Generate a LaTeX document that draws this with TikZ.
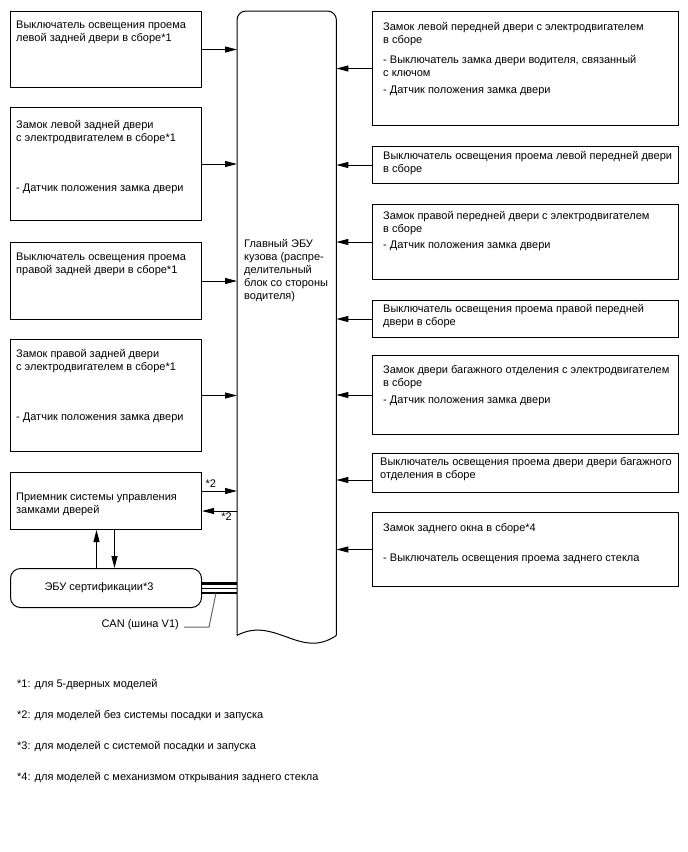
\documentclass[tikz,border=0pt]{standalone}
\usepackage{fontspec}
\setmainfont{Liberation Sans}
\usetikzlibrary{arrows.meta,positioning}
\tikzset{
  txt/.style={inner sep=0pt,font=\fontsize{11}{13}\selectfont},
  unit/.style={draw,line width=1pt,minimum width=191pt,anchor=north west,inner sep=0pt},
  runit/.style={unit,minimum width=306pt},
  cert/.style={unit,rounded corners=10pt,font=\fontsize{11}{13}\selectfont},
  lbl/.style={txt,anchor=north west,align=left,xshift=6pt},
  rlbl/.style={lbl,xshift=5pt},
  flow/.style={-{Triangle[length=12pt,width=6pt]},line width=1pt},
  leader/.style={draw=black!60,line width=1pt},
  note/.style={anchor=west,inner sep=0pt,font=\fontsize{11}{13}\selectfont},
}
\begin{document}
\begin{tikzpicture}[x=1pt,y=-1pt,node distance=19pt]
\useasboundingbox (0,0) rectangle (688,852);
% left column
\node[unit,minimum height=76pt,label={[lbl,yshift=-9.5pt]north west:{Выключатель освещения проема\\левой задней двери в сборе*1}}] (l1) at (10,11) {};
\node[unit,minimum height=113pt,below=of l1,label={[lbl,yshift=-13.5pt]north west:{Замок левой задней двери\\с электродвигателем в сборе*1\\[37pt]- Датчик положения замка двери}}] (l2) {};
\node[unit,minimum height=77pt,below=21pt of l2,label={[lbl,yshift=-10.5pt]north west:{Выключатель освещения проема\\правой задней двери в сборе*1}}] (l3) {};
\node[unit,minimum height=112pt,below=of l3,label={[lbl,yshift=-10.5pt]north west:{Замок правой задней двери\\с электродвигателем в сборе*1\\[37pt]- Датчик положения замка двери}}] (l4) {};
\node[unit,minimum height=57pt,below=20pt of l4,label={[lbl,yshift=-20.5pt]north west:{Приемник системы управления\\замками дверей}}] (l5) {};
\node[cert,minimum height=39pt,below=38pt of l5] (ecu) {\hspace*{-14pt}ЭБУ сертификации*3};
% body ECU
\node[minimum width=99pt,minimum height=624pt,anchor=north west,inner sep=0pt] (ebu) at (237,11) {};
\draw[line width=1pt,rounded corners=9pt] (ebu.south west) -- (ebu.north west) -- (ebu.north east) -- (ebu.south east);
\draw[line width=1pt] (ebu.south west) .. controls +(38,-20) and +(-36,25) .. (ebu.south east);
\node[lbl,xshift=1pt] (ebutxt) at ([yshift=-228.5pt]ebu.north west) {Главный ЭБУ\\кузова (распре-\\делительный\\блок со стороны\\водителя)};
% right column
\node[runit,minimum height=114pt,label={[rlbl,yshift=-11.5pt]north west:{Замок левой передней двери с электродвигателем\\в сборе\\[7pt]- Выключатель замка двери водителя, связанный\\с ключом\\[4pt]- Датчик положения замка двери}}] (r1) at (372,11) {};
\node[runit,minimum height=37pt,below=20pt of r1,label={[rlbl,yshift=-5.5pt]north west:{Выключатель освещения проема левой передней двери\\в сборе}}] (r2) {};
\node[runit,minimum height=75pt,below=20pt of r2,label={[rlbl,yshift=-7.5pt]north west:{Замок правой передней двери с электродвигателем\\в сборе\\[3pt]- Датчик положения замка двери}}] (r3) {};
\node[runit,minimum height=37pt,below=20pt of r3,label={[rlbl,yshift=-4.5pt]north west:{Выключатель освещения проема правой передней\\двери в сборе}}] (r4) {};
\node[runit,minimum height=79pt,below=17pt of r4,label={[rlbl,yshift=-10.5pt]north west:{Замок двери багажного отделения с электродвигателем\\в сборе\\[4pt]- Датчик положения замка двери}}] (r5) {};
\node[runit,minimum height=39pt,below=18pt of r5,label={[lbl,xshift=2pt,yshift=-4.5pt]north west:{Выключатель освещения проема двери двери багажного\\отделения в сборе}}] (r6) {};
\node[runit,minimum height=74pt,below=of r6,label={[rlbl,yshift=-11.5pt]north west:{Замок заднего окна в сборе*4\\[17pt]- Выключатель освещения проема заднего стекла}}] (r7) {};
% signals
\draw[flow] (l1) -- (l1 -| ebu.west);
\draw[flow] (l2) -- (l2 -| ebu.west);
\draw[flow] (l3) -- (l3 -| ebu.west);
\draw[flow] (l4) -- (l4 -| ebu.west);
\draw[flow] (r1) -- (r1 -| ebu.east);
\draw[flow] (r2) -- (r2 -| ebu.east);
\draw[flow] (r3) -- (r3 -| ebu.east);
\draw[flow] (r4) -- (r4 -| ebu.east);
\draw[flow] (r5) -- (r5 -| ebu.east);
\draw[flow] ([yshift=-7pt]r6.west) -- ([yshift=-7pt]r6.west -| ebu.east);
\draw[flow] (r7) -- (r7 -| ebu.east);
\draw[flow] ([yshift=10pt]l5.east) -- ([yshift=10pt]l5.east -| ebu.west)
  node[txt,pos=0,above right,inner sep=3pt] (t2a) {*2};
\draw[flow] ([yshift=-10pt]l5.east -| ebu.west) -- ([yshift=-10pt]l5.east)
  node[txt,pos=0.3,below,inner sep=1.5pt] (t2b) {*2};
\draw[flow] ([xshift=-9.5pt]ecu.north) -- ([xshift=-9.5pt]l5.south);
\draw[flow] ([xshift=8.5pt]l5.south) -- ([xshift=8.5pt]ecu.north);
% CAN bus
\draw[line width=3pt] ([yshift=5pt]ecu.east) -- ([yshift=5pt]ecu.east -| ebu.west);
\draw[line width=1pt] (ecu.east) -- (ecu.east -| ebu.west);
\draw[line width=2pt] ([yshift=-5pt]ecu.east) -- ([yshift=-5pt]ecu.east -| ebu.west);
\coordinate (tap) at ([xshift=14pt,yshift=-5pt]ecu.east);
\node[txt,anchor=base east] (can) at (179,627) {CAN (шина V1)};
\draw[leader] ([xshift=5pt]can.base east) -- ++(25,0) -- (tap);
% notes
\node[note] (fn1) at (17,685) {*1: для 5-дверных моделей};
\node[note] (fn2) at (17,716) {*2: для моделей без системы посадки и запуска};
\node[note] (fn3) at (17,747) {*3: для моделей с системой посадки и запуска};
\node[note] (fn4) at (17,778) {*4: для моделей с механизмом открывания заднего стекла};
\end{tikzpicture}
\end{document}
